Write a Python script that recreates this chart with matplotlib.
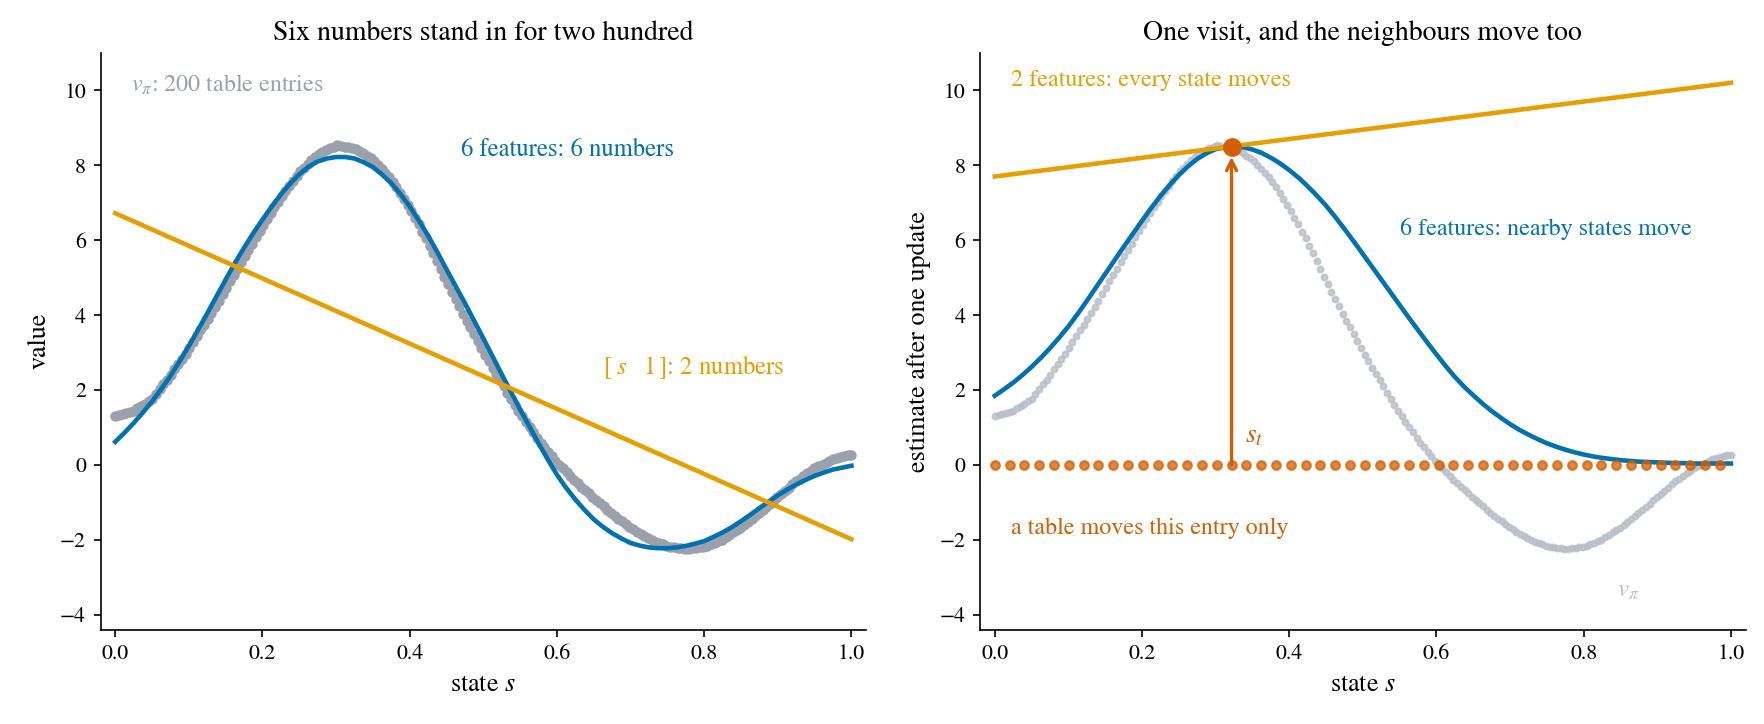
import numpy as np
import matplotlib
matplotlib.use("Agg")
import matplotlib.pyplot as plt

plt.rcParams['font.family'] = ['STIXGeneral', 'DejaVu Serif']
plt.rcParams['mathtext.fontset'] = 'stix'

BLUE = '#0072B2'
ORANGE = '#E69F00'
VERM = '#D55E00'
GREY = '#9aa1ac'
LIGHT_GREY = '#b9bfc8'

# true value function, 200 table entries
v_pi = [
    1.30, 1.33, 1.36, 1.38, 1.41, 1.44, 1.51, 1.57, 1.63, 1.70,
    1.77, 1.90, 2.02, 2.15, 2.28, 2.41, 2.55, 2.69, 2.83, 2.97,
    3.12, 3.27, 3.43, 3.59, 3.74, 3.90, 4.07, 4.23, 4.39, 4.56,
    4.73, 4.90, 5.07, 5.24, 5.41, 5.58, 5.75, 5.91, 6.08, 6.25,
    6.41, 6.57, 6.72, 6.88, 7.03, 7.18, 7.31, 7.45, 7.58, 7.72,
    7.84, 7.94, 8.04, 8.13, 8.23, 8.31, 8.36, 8.41, 8.46, 8.50,
    8.54, 8.52, 8.50, 8.49, 8.47, 8.44, 8.38, 8.32, 8.26, 8.20,
    8.12, 8.01, 7.91, 7.80, 7.69, 7.56, 7.41, 7.26, 7.10, 6.95,
    6.79, 6.60, 6.42, 6.23, 6.05, 5.85, 5.65, 5.44, 5.24, 5.03,
    4.83, 4.63, 4.44, 4.24, 4.04, 3.85, 3.67, 3.49, 3.30, 3.12,
    2.94, 2.77, 2.60, 2.43, 2.26, 2.10, 1.93, 1.77, 1.61, 1.45,
    1.30, 1.16, 1.01, 0.87, 0.72, 0.59, 0.47, 0.35, 0.24, 0.12,
    0.01, -0.09, -0.19, -0.29, -0.39, -0.49, -0.58, -0.67, -0.76, -0.85,
    -0.94, -1.02, -1.10, -1.19, -1.27, -1.35, -1.43, -1.50, -1.58, -1.66,
    -1.72, -1.78, -1.84, -1.90, -1.96, -2.01, -2.05, -2.08, -2.12, -2.16,
    -2.18, -2.19, -2.21, -2.22, -2.23, -2.23, -2.22, -2.21, -2.19, -2.18,
    -2.15, -2.11, -2.07, -2.03, -1.99, -1.93, -1.86, -1.80, -1.73, -1.67,
    -1.59, -1.51, -1.44, -1.36, -1.28, -1.20, -1.11, -1.03, -0.94, -0.86,
    -0.77, -0.69, -0.61, -0.52, -0.44, -0.36, -0.29, -0.22, -0.15, -0.08,
    -0.03, 0.01, 0.06, 0.11, 0.16, 0.18, 0.21, 0.23, 0.26, 0.28,
]
states = np.linspace(0, 1, len(v_pi))

# 6 RBF-feature fit (left panel), 81-point grid
fit6 = [
    0.62, 0.86, 1.12, 1.40, 1.70, 2.03, 2.38, 2.77, 3.18, 3.61,
    4.05, 4.50, 4.95, 5.39, 5.80, 6.19, 6.55, 6.90, 7.22, 7.51,
    7.76, 7.96, 8.10, 8.18, 8.22, 8.22, 8.18, 8.08, 7.95, 7.75,
    7.52, 7.23, 6.90, 6.52, 6.12, 5.68, 5.22, 4.77, 4.32, 3.85,
    3.38, 2.90, 2.42, 1.95, 1.48, 1.03, 0.58, 0.15, -0.26, -0.61,
    -0.92, -1.20, -1.45, -1.65, -1.82, -1.96, -2.08, -2.15, -2.20, -2.22,
    -2.22, -2.20, -2.16, -2.10, -2.03, -1.92, -1.80, -1.66, -1.50, -1.33,
    -1.15, -0.98, -0.81, -0.66, -0.52, -0.40, -0.29, -0.20, -0.12, -0.07,
    -0.02,
]
# 6 RBF-feature estimate after one update (right panel), 81-point grid
update6 = [
    1.85, 2.02, 2.20, 2.40, 2.62, 2.86, 3.12, 3.40, 3.70, 4.03,
    4.38, 4.74, 5.10, 5.46, 5.82, 6.17, 6.52, 6.86, 7.18, 7.47,
    7.74, 7.97, 8.17, 8.32, 8.43, 8.48, 8.50, 8.48, 8.42, 8.33,
    8.20, 8.05, 7.87, 7.67, 7.44, 7.19, 6.92, 6.62, 6.30, 5.97,
    5.63, 5.29, 4.95, 4.61, 4.27, 3.93, 3.60, 3.27, 2.95, 2.64,
    2.35, 2.09, 1.86, 1.64, 1.44, 1.26, 1.09, 0.94, 0.81, 0.69,
    0.58, 0.49, 0.41, 0.34, 0.28, 0.23, 0.19, 0.16, 0.13, 0.11,
    0.09, 0.08, 0.07, 0.06, 0.05, 0.05, 0.04, 0.04, 0.04, 0.04,
    0.04,
]
grid = np.linspace(0, 1, len(fit6))

# 2-feature linear fit / update, end points
lin_s = [0.0, 1.0]
fit2 = [6.72, -1.98]
update2 = [7.70, 10.20]

# table entries shown on the right (every 4th state), all still zero
table_idx = list(range(0, 200, 4))
table_vals = [0.0] * len(table_idx)
s_t_idx = 64
target = 8.5

fig = plt.figure(figsize=(11.76, 4.8267), dpi=150)
ax1 = fig.add_axes([0.057, 0.130, 0.434, 0.797])
ax2 = fig.add_axes([0.5556, 0.130, 0.434, 0.797])

# ---- left panel
ax1.plot(states, v_pi, 'o', ms=4.0, color=GREY, mec=GREY, zorder=2)
ax1.plot(grid, fit6, color=BLUE, lw=2.2, zorder=3)
ax1.plot(lin_s, fit2, color=ORANGE, lw=2.2, zorder=3)
ax1.text(0.022, 10.15, r'$v_\pi$: 200 table entries', color=GREY,
         fontsize=11.5, va='center')
ax1.text(0.47, 8.4, '6 features: 6 numbers', color=BLUE, fontsize=11.8,
         va='center')
ax1.text(0.663, 2.6, r'$[\;s\quad 1\,]$: 2 numbers', color=ORANGE,
         fontsize=11.8, va='center')
ax1.set_title('Six numbers stand in for two hundred', fontsize=13.3)
ax1.set_ylabel('value', fontsize=12.5)

# ---- right panel
s_t = states[s_t_idx]
ax2.plot(states, v_pi, 'o', ms=2.8, color=LIGHT_GREY, mec=LIGHT_GREY,
         alpha=0.8, zorder=1)
ax2.plot(grid, update6, color=BLUE, lw=2.2, zorder=3)
ax2.plot(lin_s, update2, color=ORANGE, lw=2.2, zorder=3)
ax2.plot(states[table_idx], table_vals, 'o', ms=4.2, color=VERM, alpha=0.75,
         zorder=4)
ax2.annotate('', xy=(s_t, target), xytext=(s_t, 0),
             arrowprops=dict(arrowstyle='->', color=VERM, lw=1.6,
                             shrinkA=0, shrinkB=5, mutation_scale=12),
             zorder=5)
ax2.plot([s_t], [target], 'o', ms=8, color=VERM, zorder=6)
ax2.text(0.34, 0.78, r'$s_t$', color=VERM, fontsize=13, va='center')
ax2.text(0.022, 10.27, '2 features: every state moves', color=ORANGE,
         fontsize=11.5, va='center')
ax2.text(0.55, 6.3, '6 features: nearby states move', color=BLUE,
         fontsize=11.5, va='center')
ax2.text(0.022, -1.7, 'a table moves this entry only', color=VERM,
         fontsize=11.5, va='center')
ax2.text(0.845, -3.35, r'$v_\pi$', color=LIGHT_GREY, fontsize=12,
         va='center')
ax2.set_title('One visit, and the neighbours move too', fontsize=13.3)
ax2.set_ylabel('estimate after one update', fontsize=12.5)

for ax in (ax1, ax2):
    ax.set_xlim(-0.02, 1.02)
    ax.set_ylim(-4.4, 11)
    ax.set_yticks([-4, -2, 0, 2, 4, 6, 8, 10])
    ax.set_xticks([0.0, 0.2, 0.4, 0.6, 0.8, 1.0])
    ax.set_xlabel('state $s$', fontsize=12.5)
    ax.tick_params(labelsize=10.5)
    ax.spines['top'].set_visible(False)
    ax.spines['right'].set_visible(False)

fig.savefig('out.png', dpi=150)
